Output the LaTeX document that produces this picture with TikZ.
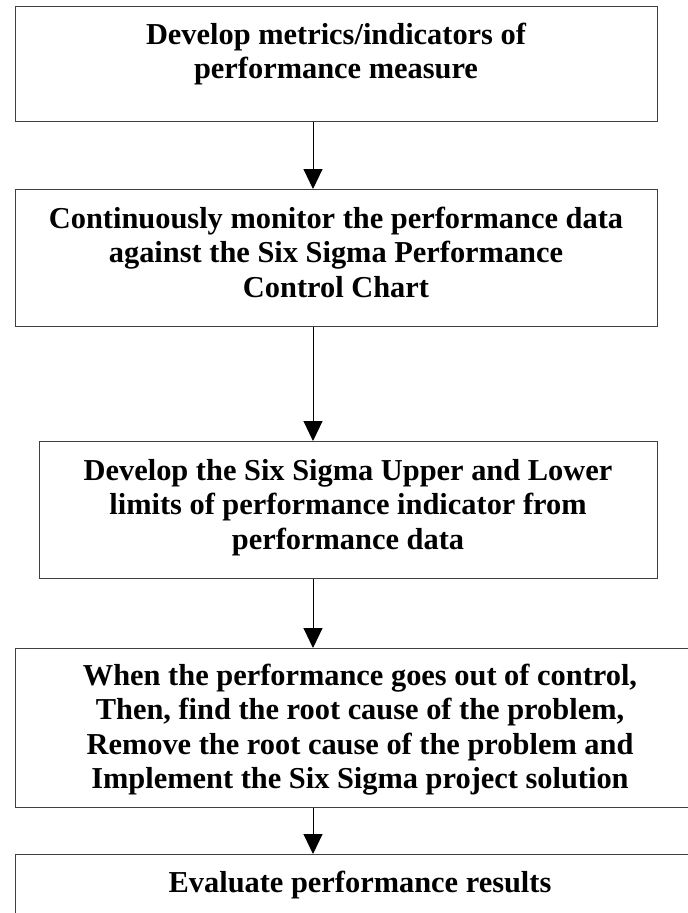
\documentclass[tikz,border=0pt]{standalone}
\usepackage{fontspec}
\setmainfont{Liberation Serif}
\usetikzlibrary{arrows.meta}
\begin{document}
\begin{tikzpicture}[x=1pt,y=-1pt,
  box/.style={draw=black!75, line width=1.3pt, fill=none, rectangle, inner sep=0pt, anchor=north west},
  txt/.style={align=center, anchor=base, inner sep=0pt,
    font=\fontsize{30.4}{34.5}\selectfont\bfseries},
  arr/.style={draw=black, line width=1pt, -{Triangle[length=20pt,width=19pt]}}]
\useasboundingbox (0,0) rectangle (688,913);
\clip (0,0) rectangle (688,913);
\fill[white] (0,0) rectangle (688,913);
\coordinate (ax) at (313,0);
% boxes
\node[box, minimum width=642pt, minimum height=115pt] (b1) at (15,6) {};
\node[box, minimum width=642pt, minimum height=137pt] (b2) at (15,189) {};
\node[box, minimum width=618pt, minimum height=137pt] (b3) at (39,441) {};
\node[box, minimum width=690pt, minimum height=159pt] (b4) at (15,648) {};
\node[box, minimum width=690pt, minimum height=120pt] (b5) at (15,854) {};
% texts (anchored at the baseline of the last line)
\node[txt] (t1) at (336,78.5) {Develop metrics/indicators of\\performance measure};
\node[txt] (t2) at (336,297) {Continuously monitor the performance data\\against the Six Sigma Performance\\Control Chart};
\node[txt] (t3) at (348,549) {Develop the Six Sigma Upper and Lower\\limits of performance indicator from\\performance data};
\node[txt] (t4) at (360,788.5) {When the performance goes out of control,\\Then, find the root cause of the problem,\\Remove the root cause of the problem and\\Implement the Six Sigma project solution};
\node[txt] (t5) at (360,892) {Evaluate performance results};
% connectors
\draw[arr] (b1.south -| ax) -- (b2.north -| ax);
\draw[arr] (b2.south -| ax) -- (b3.north -| ax);
\draw[arr] (b3.south -| ax) -- (b4.north -| ax);
\draw[arr] (b4.south -| ax) -- (b5.north -| ax);
\end{tikzpicture}
\end{document}
